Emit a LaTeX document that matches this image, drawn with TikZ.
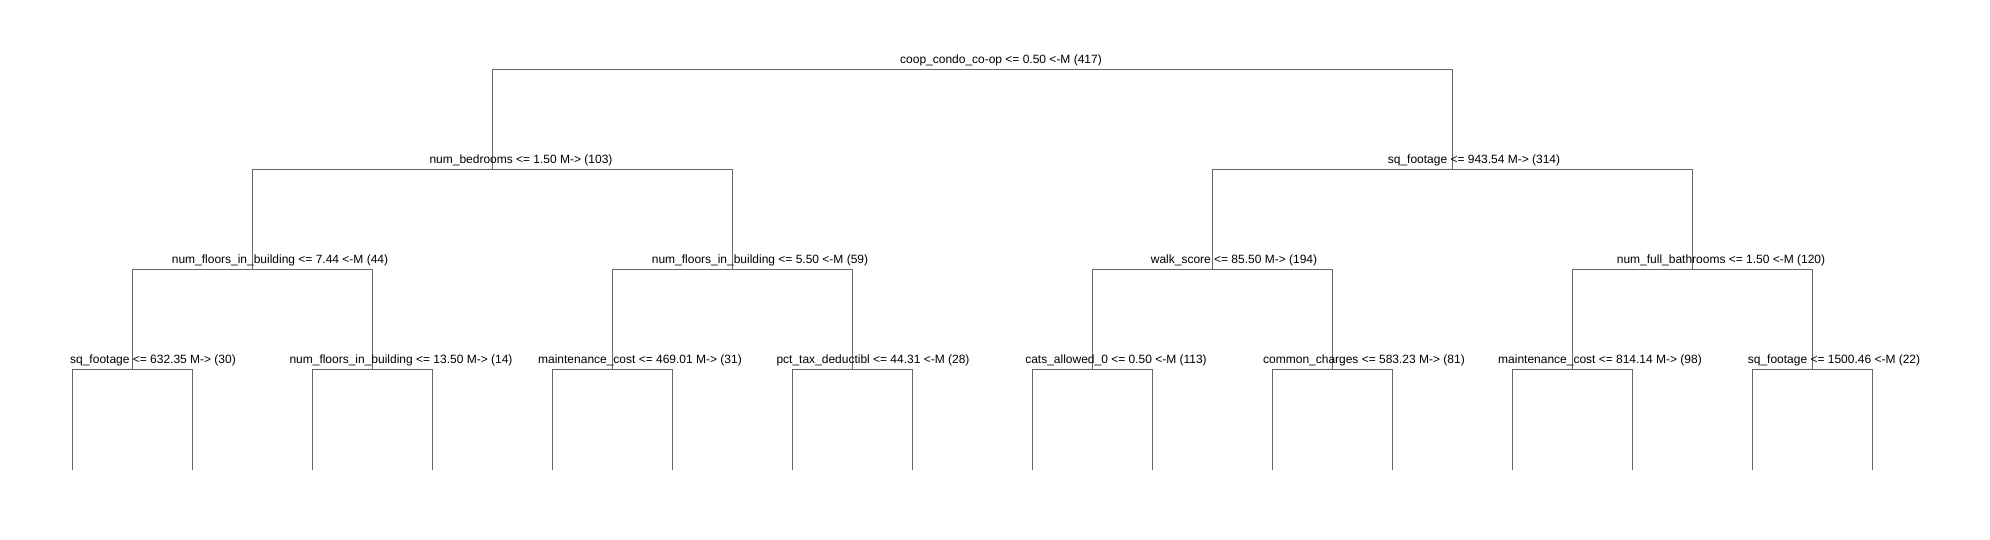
\documentclass[tikz,border=0pt]{standalone}
\usepackage{fontspec}
\usepackage{tikz}
\usepackage{xcolor}
\usetikzlibrary{calc}
\newfontfamily\splitfont{Liberation Sans}

\begin{document}
\begin{tikzpicture}[x=0.01cm,y=-0.01cm,
  splitlabel/.style={font={\splitfont\fontsize{3.41}{4}\selectfont},anchor=base,inner sep=0pt},
  branch/.style={draw=branchgray,line width=0.01cm}]
\definecolor{branchgray}{HTML}{666666}
\useasboundingbox (0,0) rectangle (1990,540);
\coordinate (n1) at (972,70);
\foreach \k/\x in {2/492,3/1452}
  {\coordinate (n\k) at (\x,170);}
\foreach \k/\x in {4/252,5/732,6/1212,7/1692}
  {\coordinate (n\k) at (\x,270);}
\foreach \k/\x in {8/132,9/372,10/612,11/852,12/1092,13/1332,14/1572,15/1812}
  {\coordinate (n\k) at (\x,370);}
\foreach \k in {16,...,31}
  {\coordinate (n\k) at ({72+120*(\k-16)},470);}
\foreach \k in {2,...,31}
  {\pgfmathtruncatemacro{\up}{\k/2}
   \draw[branch] (n\up) -| (n\k);}
\foreach \k/\dx/\txt in {1/29/{coop\_condo\_co-op <= 0.50 <-M (417)},
    2/29/{num\_bedrooms <= 1.50 M-> (103)},
    3/22/{sq\_footage <= 943.54 M-> (314)},
    4/28/{num\_floors\_in\_building <= 7.44 <-M (44)},
    5/28/{num\_floors\_in\_building <= 5.50 <-M (59)},
    6/22/{walk\_score <= 85.50 M-> (194)},
    7/29/{num\_full\_bathrooms <= 1.50 <-M (120)},
    8/21/{sq\_footage <= 632.35 M-> (30)},
    9/29/{num\_floors\_in\_building <= 13.50 M-> (14)},
    10/28/{maintenance\_cost <= 469.01 M-> (31)},
    11/21/{pct\_tax\_deductibl <= 44.31 <-M (28)},
    12/24/{cats\_allowed\_0 <= 0.50 <-M (113)},
    13/32/{common\_charges <= 583.23 M-> (81)},
    14/28/{maintenance\_cost <= 814.14 M-> (98)},
    15/22/{sq\_footage <= 1500.46 <-M (22)}}
  {\node[splitlabel] (t\k) at ($(n\k)+(\dx,-6)$) {\txt};}
\end{tikzpicture}
\end{document}
